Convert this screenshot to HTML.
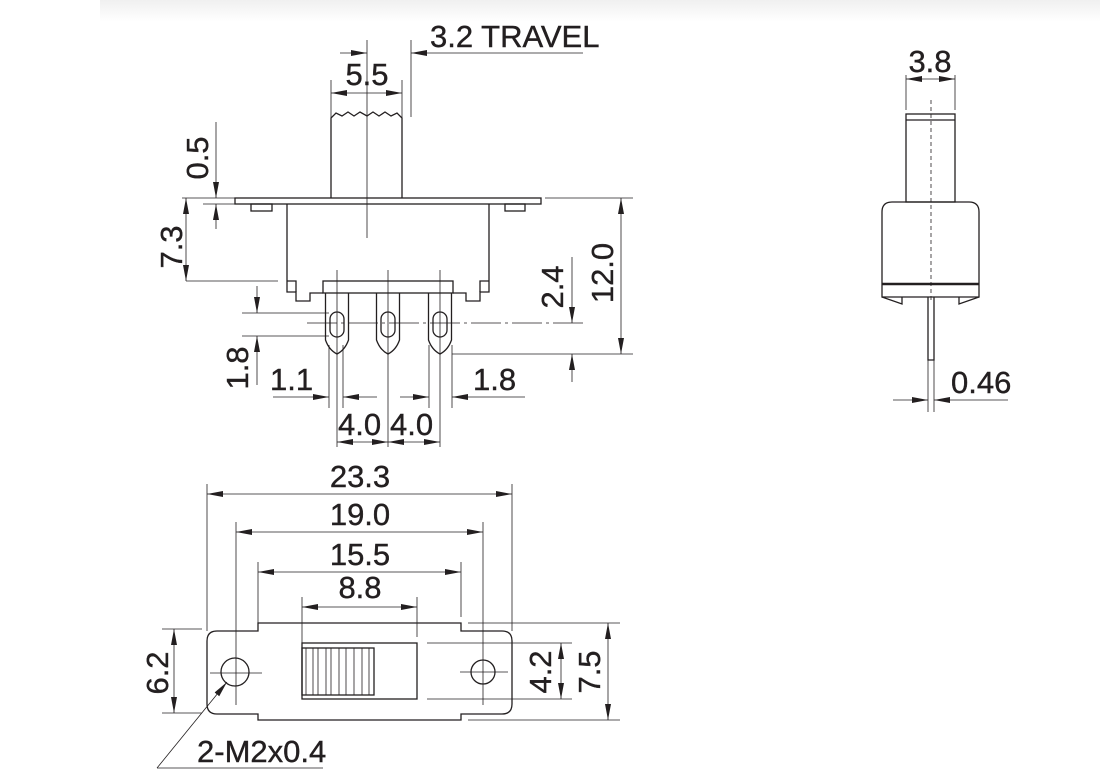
<!DOCTYPE html>
<html><head><meta charset="utf-8"><style>
html,body{margin:0;padding:0;background:#fff}
svg{display:block}
text{font-family:"Liberation Sans",Arial,sans-serif;font-size:31px;fill:#231f20;stroke:#231f20;stroke-width:0.4}
</style></head><body>
<svg width="1120" height="784" viewBox="0 0 1120 784" xmlns="http://www.w3.org/2000/svg">
<defs>
<linearGradient id="g" x1="0" y1="0" x2="0" y2="1"><stop offset="0" stop-color="#f0f0f0"/><stop offset="1" stop-color="#fff"/></linearGradient>
<marker id="a" markerUnits="userSpaceOnUse" markerWidth="16" markerHeight="7" refX="16" refY="3.5" orient="auto"><path d="M0,0.5 L16,3.5 L0,6.5 Z" fill="#231f20"/></marker>
</defs>
<rect x="100" y="0" width="1000" height="22" fill="url(#g)"/>
<g stroke="#231f20" fill="none" stroke-width="1.3">
<rect x="235" y="198" width="306" height="6"/>
<rect x="251" y="204" width="21" height="7"/>
<rect x="505" y="204" width="20" height="7"/>
<path d="M331,198 V118 L336,113 L342,116 L348,112 L354,116 L360,112 L367,116 L373,112 L379,116 L385,112 L391,116 L397,113 L402,118 V198"/>
<path d="M287,204 V292 H296 V301 H310 V293 H323 M453,293 H466 V301 H480 V292 H489 V204"/>
<path d="M287,281 H296 V292 M489,281 H480 V292"/>
<rect x="323" y="281" width="130" height="12"/>
<path d="M325.5,293 V340 Q329,350 337,354 Q345,350 348.5,340 V293"/>
<path d="M376.5,293 V340 Q380,350 388,354 Q396,350 399.5,340 V293"/>
<path d="M428.5,293 V340 Q432,350 440,354 Q448,350 451.5,340 V293"/>
<rect x="330" y="312" width="14" height="25" rx="7"/>
<rect x="381" y="312" width="14" height="25" rx="7"/>
<rect x="433" y="312" width="14" height="25" rx="7"/>
</g>
<g stroke="#231f20" fill="none" stroke-width="0.8">
<line x1="367" y1="40" x2="367" y2="238"/>
<line x1="411" y1="40" x2="411" y2="117"/>
<line x1="331" y1="80" x2="331" y2="118"/>
<line x1="402" y1="80" x2="402" y2="118"/>
<line x1="182" y1="198" x2="235" y2="198"/>
<line x1="203" y1="204" x2="235" y2="204"/>
<line x1="545" y1="198" x2="633" y2="198"/>
<line x1="452" y1="354" x2="633" y2="354"/>
<line x1="186" y1="281" x2="278" y2="281"/>
<line x1="307" y1="323" x2="585" y2="323" stroke-dasharray="30 4 3 4"/>
<line x1="242" y1="313" x2="329" y2="313"/>
<line x1="242" y1="336" x2="329" y2="336"/>
<line x1="329" y1="345" x2="329" y2="408"/>
<line x1="343" y1="345" x2="343" y2="408"/>
<line x1="429" y1="345" x2="429" y2="408"/>
<line x1="452" y1="345" x2="452" y2="408"/>
<line x1="337" y1="270" x2="337" y2="447"/>
<line x1="388" y1="270" x2="388" y2="447"/>
<line x1="440" y1="270" x2="440" y2="447"/>
<line x1="340" y1="53" x2="367" y2="53" marker-end="url(#a)"/>
<line x1="583" y1="53" x2="411" y2="53" marker-end="url(#a)"/>
<line x1="367" y1="93" x2="331" y2="93" marker-end="url(#a)"/>
<line x1="367" y1="93" x2="402" y2="93" marker-end="url(#a)"/>
<line x1="216" y1="122" x2="216" y2="198" marker-end="url(#a)"/>
<line x1="216" y1="229" x2="216" y2="204" marker-end="url(#a)"/>
<line x1="186" y1="240" x2="186" y2="198" marker-end="url(#a)"/>
<line x1="186" y1="240" x2="186" y2="281" marker-end="url(#a)"/>
<line x1="621" y1="276" x2="621" y2="198" marker-end="url(#a)"/>
<line x1="621" y1="276" x2="621" y2="354" marker-end="url(#a)"/>
<line x1="572" y1="257" x2="572" y2="323" marker-end="url(#a)"/>
<line x1="572" y1="382" x2="572" y2="354" marker-end="url(#a)"/>
<line x1="257" y1="286" x2="257" y2="313" marker-end="url(#a)"/>
<line x1="257" y1="385" x2="257" y2="336" marker-end="url(#a)"/>
<line x1="273" y1="397" x2="329" y2="397" marker-end="url(#a)"/>
<line x1="377" y1="397" x2="343" y2="397" marker-end="url(#a)"/>
<line x1="400" y1="397" x2="429" y2="397" marker-end="url(#a)"/>
<line x1="525" y1="397" x2="452" y2="397" marker-end="url(#a)"/>
<line x1="362" y1="442" x2="337" y2="442" marker-end="url(#a)"/>
<line x1="362" y1="442" x2="388" y2="442" marker-end="url(#a)"/>
<line x1="414" y1="442" x2="388" y2="442" marker-end="url(#a)"/>
<line x1="414" y1="442" x2="440" y2="442" marker-end="url(#a)"/>
</g>
<g stroke="#231f20" fill="none" stroke-width="1.3">
<path d="M258,631 V623 H461 V631 H502 Q512,631 512,641 V704 Q512,714 502,714 H461 V720 H258 V714 H217 Q207,714 207,704 V641 Q207,631 217,631 Z"/>
<circle cx="235" cy="672" r="14"/>
<circle cx="483" cy="672" r="12"/>
<rect x="302" y="643" width="115" height="56"/>
<rect x="302" y="648" width="72" height="47"/>
</g>
<g stroke="#231f20" fill="none" stroke-width="0.8">
<path d="M306,648V695 M313,648V695 M318,648V695 M326,648V695 M331,648V695 M339,648V695 M346,648V695 M354,648V695 M362,648V695 M369,648V695"/>
<line x1="207" y1="484" x2="207" y2="631"/>
<line x1="512" y1="484" x2="512" y2="631"/>
<line x1="236" y1="522" x2="236" y2="705"/>
<line x1="483" y1="522" x2="483" y2="705"/>
<line x1="258" y1="562" x2="258" y2="623"/>
<line x1="461" y1="562" x2="461" y2="617"/>
<line x1="302" y1="597" x2="302" y2="643"/>
<line x1="417" y1="597" x2="417" y2="637"/>
<line x1="210" y1="673" x2="262" y2="673"/>
<line x1="460" y1="672" x2="508" y2="672"/>
<line x1="162" y1="629" x2="202" y2="629"/>
<line x1="162" y1="713" x2="202" y2="713"/>
<line x1="427" y1="643" x2="572" y2="643"/>
<line x1="427" y1="699" x2="572" y2="699"/>
<line x1="468" y1="623" x2="620" y2="623"/>
<line x1="468" y1="720" x2="620" y2="720"/>
<line x1="360" y1="494" x2="207" y2="494" marker-end="url(#a)"/>
<line x1="360" y1="494" x2="512" y2="494" marker-end="url(#a)"/>
<line x1="360" y1="532" x2="236" y2="532" marker-end="url(#a)"/>
<line x1="360" y1="532" x2="483" y2="532" marker-end="url(#a)"/>
<line x1="360" y1="572" x2="258" y2="572" marker-end="url(#a)"/>
<line x1="360" y1="572" x2="461" y2="572" marker-end="url(#a)"/>
<line x1="360" y1="607" x2="302" y2="607" marker-end="url(#a)"/>
<line x1="360" y1="607" x2="417" y2="607" marker-end="url(#a)"/>
<line x1="174" y1="671" x2="174" y2="629" marker-end="url(#a)"/>
<line x1="174" y1="671" x2="174" y2="713" marker-end="url(#a)"/>
<line x1="561" y1="671" x2="561" y2="643" marker-end="url(#a)"/>
<line x1="561" y1="671" x2="561" y2="699" marker-end="url(#a)"/>
<line x1="608" y1="671" x2="608" y2="623" marker-end="url(#a)"/>
<line x1="608" y1="671" x2="608" y2="720" marker-end="url(#a)"/>
<line x1="323" y1="768" x2="157" y2="768"/>
<line x1="157" y1="768" x2="227" y2="682" marker-end="url(#a)"/>
</g>
<g stroke="#231f20" fill="none" stroke-width="1.3">
<rect x="906" y="114" width="49" height="88"/>
<line x1="906" y1="120" x2="955" y2="120"/>
<path d="M882,297 V212 Q882,202 892,202 H969 Q979,202 979,212 V297 Z"/>
<line x1="882" y1="284" x2="979" y2="284" stroke-width="2.4"/>
<path d="M882,297 L902,304 V297 M979,297 L959,304 V297"/>
<path d="M928,297 V360 H934 V297"/>
</g>
<g stroke="#231f20" fill="none" stroke-width="0.8">
<line x1="931" y1="100" x2="931" y2="300" stroke-dasharray="4 3"/>
<line x1="928" y1="360" x2="928" y2="412"/>
<line x1="934" y1="360" x2="934" y2="412"/>
<line x1="906" y1="75" x2="906" y2="110"/>
<line x1="955" y1="75" x2="955" y2="110"/>
<line x1="930" y1="79" x2="906" y2="79" marker-end="url(#a)"/>
<line x1="930" y1="79" x2="955" y2="79" marker-end="url(#a)"/>
<line x1="893" y1="400" x2="928" y2="400" marker-end="url(#a)"/>
<line x1="1008" y1="400" x2="934" y2="400" marker-end="url(#a)"/>
</g>
<text x="430" y="47">3.2 TRAVEL</text>
<text x="367" y="85" text-anchor="middle">5.5</text>
<text x="270" y="390">1.1</text>
<text x="473" y="390">1.8</text>
<text x="338" y="435">4.0</text>
<text x="390" y="435">4.0</text>
<text transform="translate(208,158) rotate(-90)" text-anchor="middle">0.5</text>
<text transform="translate(182,247) rotate(-90)" text-anchor="middle">7.3</text>
<text transform="translate(613,273) rotate(-90)" text-anchor="middle">12.0</text>
<text transform="translate(563,287) rotate(-90)" text-anchor="middle">2.4</text>
<text transform="translate(248,368) rotate(-90)" text-anchor="middle">1.8</text>
<text x="360" y="487" text-anchor="middle">23.3</text>
<text x="360" y="525" text-anchor="middle">19.0</text>
<text x="360" y="565" text-anchor="middle">15.5</text>
<text x="360" y="598" text-anchor="middle">8.8</text>
<text transform="translate(168,673) rotate(-90)" text-anchor="middle">6.2</text>
<text transform="translate(551,672) rotate(-90)" text-anchor="middle">4.2</text>
<text transform="translate(600,672) rotate(-90)" text-anchor="middle">7.5</text>
<text x="197" y="762">2-M2x0.4</text>
<text x="930" y="72" text-anchor="middle">3.8</text>
<text x="951" y="393">0.46</text>
</svg>
</body></html>
